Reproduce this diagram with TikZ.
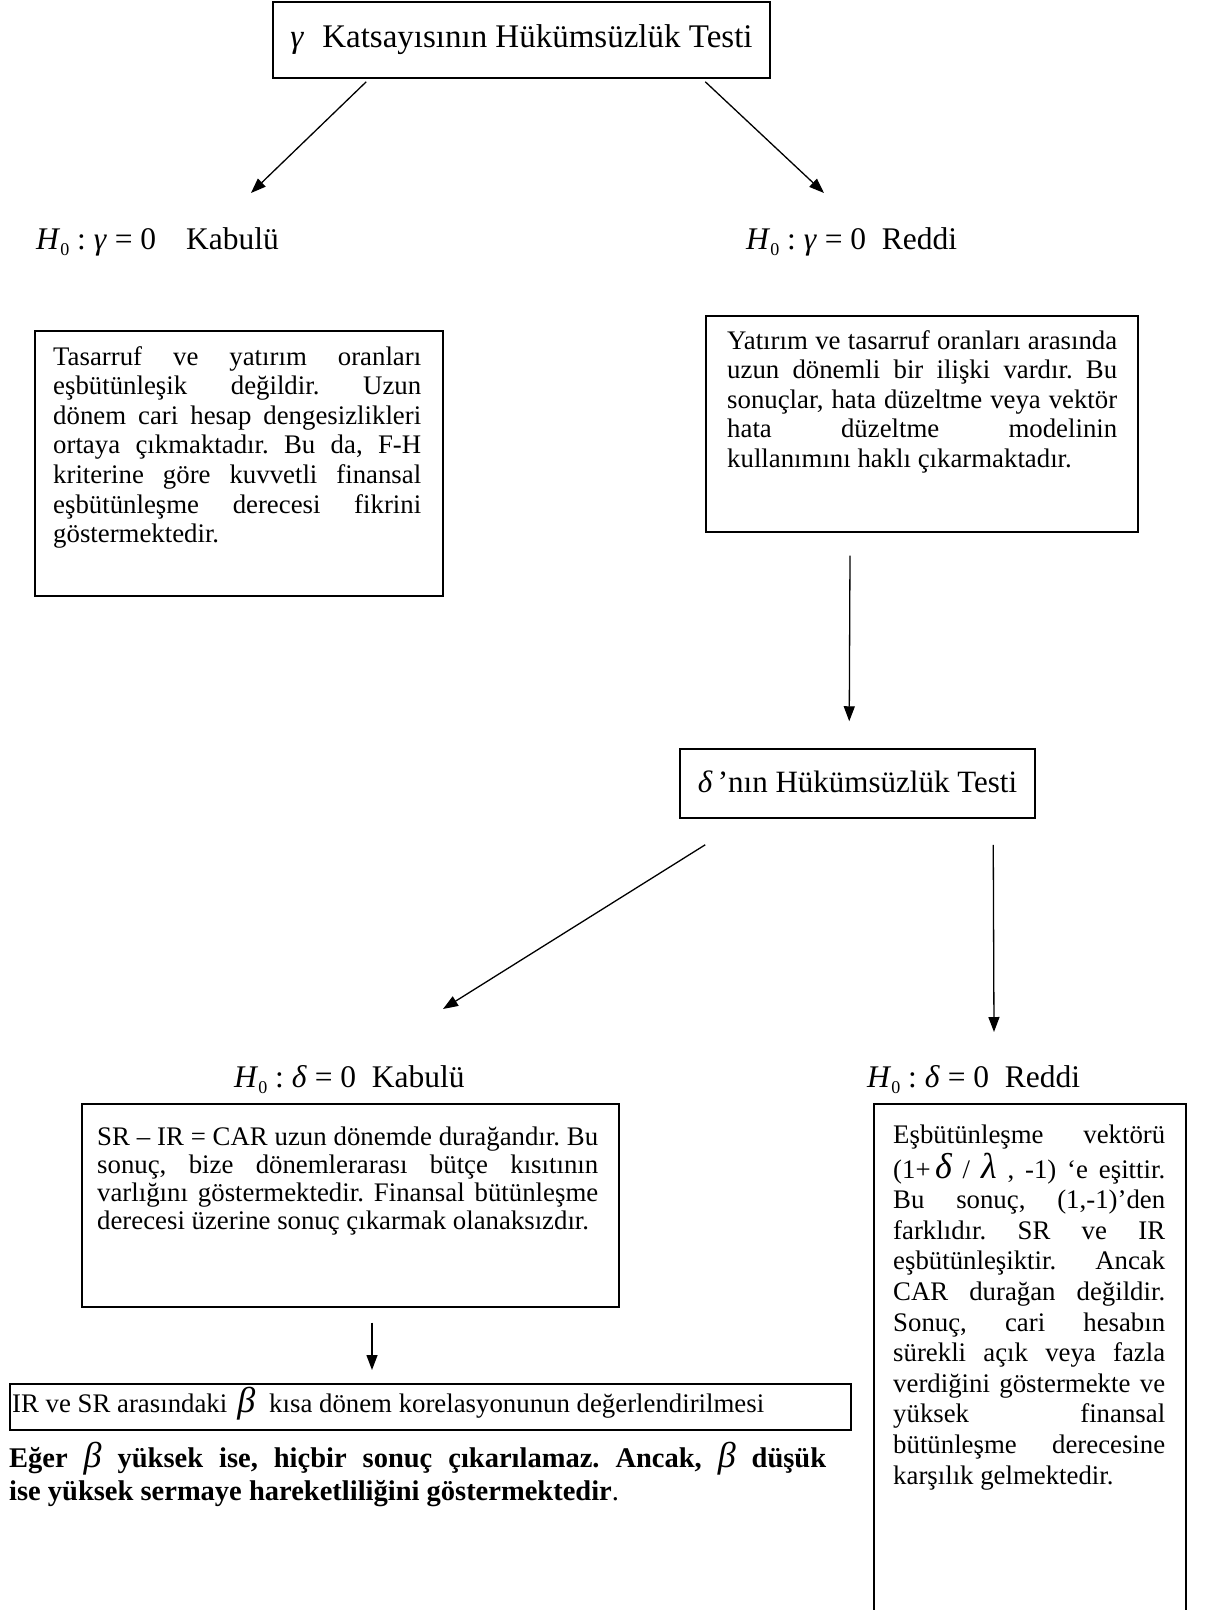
\documentclass[tikz,border=0pt]{standalone}
\usepackage{fontspec}
\setmainfont{Liberation Serif}
\usetikzlibrary{arrows.meta,calc}
\frenchspacing
\newcommand\jl[1]{\makebox[\linewidth][s]{#1}}
\newcommand\bodyfs{\fontsize{26.8}{29.6}\selectfont}
\newcommand\labfs{\fontsize{31.5}{34}\selectfont}
\newcommand\Hz{\textit{H}\raisebox{-0.42ex}{\fontsize{18}{18}\selectfont 0}}
\newcommand\gk[1]{{\fontsize{36}{36}\selectfont\itshape #1}}
\begin{document}
\begin{tikzpicture}[x=1pt,y=1pt,
  box/.style={draw, line width=1.5pt, inner sep=0pt, anchor=north west},
  txt/.style={inner sep=0pt, anchor=base west},
  arr/.style={line width=1.3pt, -{Triangle[length=15pt,width=11pt]}}]
\useasboundingbox[fill=white] (0,0) rectangle (1205,-1610);

% top
\node[draw, line width=1.5pt, inner sep=0pt, minimum width=497pt, minimum height=76pt, font=\fontsize{33}{36}\selectfont] (top) at (521.5,-40) {\textit{γ}\hspace{0.55em}Katsayısının Hükümsüzlük Testi};

\node[txt, font=\labfs] (hgk) at (36,-249) {\Hz\ :\ \textit{γ}\ =\ 0\hspace{30pt}Kabulü};
\node[txt, font=\labfs] (hgr) at (746,-249) {\Hz\ :\ \textit{γ}\ =\ 0\ \ Reddi};

% left box
\node[box, minimum width=408pt, minimum height=265pt] (lbox) at (34,-330) {};
\node[txt] (ltxt) at ($(lbox.north west)+(19,-35)$) {\parbox[t]{368pt}{\bodyfs
\jl{Tasarruf ve yatırım oranları}\\
\jl{eşbütünleşik değildir. Uzun}\\
\jl{dönem cari hesap dengesizlikleri}\\
\jl{ortaya çıkmaktadır. Bu da, F-H}\\
\jl{kriterine göre kuvvetli finansal}\\
\jl{eşbütünleşme derecesi fikrini}\\
göstermektedir.}};

% right box
\node[box, minimum width=432pt, minimum height=216pt] (rbox) at (705,-315) {};
\node[txt] (rtxt) at ($(rbox.north west)+(22,-34)$) {\parbox[t]{390pt}{\bodyfs
\jl{Yatırım ve tasarruf oranları arasında}\\
\jl{uzun dönemli bir ilişki vardır. Bu}\\
\jl{sonuçlar, hata düzeltme veya vektör}\\
\jl{hata düzeltme modelinin}\\
kullanımını haklı çıkarmaktadır.}};

% delta box
\node[draw, line width=1.5pt, inner sep=0pt, minimum width=355pt, minimum height=69pt, font=\fontsize{31}{34}\selectfont] (dbox) at (857.5,-783.5) {\raisebox{4pt}{\textit{δ}\,’nın Hükümsüzlük Testi}};

\node[txt, font=\labfs] (hdk) at (234,-1087) {\Hz\ :\ \textit{δ}\ =\ 0\ \ Kabulü};
\node[txt, font=\labfs] (hdr) at (867,-1087) {\Hz\ :\ \textit{δ}\ =\ 0\ \ Reddi};

% SR box
\node[box, minimum width=537pt, minimum height=203pt] (sbox) at (81,-1103) {};
\node[txt] (stxt) at ($(sbox.north west)+(16,-42)$) {\parbox[t]{501pt}{\fontsize{26.8}{28}\selectfont
\jl{SR – IR = CAR uzun dönemde durağandır. Bu}\\
\jl{sonuç, bize dönemlerarası bütçe kısıtının}\\
\jl{varlığını göstermektedir. Finansal bütünleşme}\\
derecesi üzerine sonuç çıkarmak olanaksızdır.}};

% IR box
\node[box, minimum width=841pt, minimum height=46pt] (ibox) at (9,-1383) {};
\node[txt, font=\bodyfs] (itxt) at ($(ibox.north west)+(3,-29)$) {IR ve SR arasındaki\hspace{10pt}\gk{β}\hspace{14pt}kısa dönem korelasyonunun değerlendirilmesi};

% bold text
\node[txt] (btxt) at (9,-1467) {\parbox[t]{817pt}{\fontsize{28.5}{33}\selectfont\bfseries
\jl{Eğer \gk{\mdseries β} yüksek ise, hiçbir sonuç çıkarılamaz. Ancak, \gk{\mdseries β} düşük}\\
ise yüksek sermaye hareketliliğini göstermektedir{\mdseries .}}};

% right bottom box
\node[box, minimum width=312pt, minimum height=540pt] (ebox) at (873,-1103) {};
\node[txt] (etxt) at ($(ebox.north west)+(20,-40)$) {\parbox[t]{272pt}{\fontsize{26.8}{30.6}\selectfont
\jl{Eşbütünleşme vektörü}\\[3pt]
\jl{(1+\,\gk{δ}\ /\ \gk{λ}\ , -1) ‘e eşittir.}\\
\jl{Bu sonuç, (1,-1)’den}\\
\jl{farklıdır. SR ve IR}\\
\jl{eşbütünleşiktir. Ancak}\\
\jl{CAR durağan değildir.}\\
\jl{Sonuç, cari hesabın}\\
\jl{sürekli açık veya fazla}\\
\jl{verdiğini göstermekte ve}\\
\jl{yüksek finansal}\\
\jl{bütünleşme derecesine}\\
karşılık gelmektedir.}};

% arrows
\draw[arr] ($(top.south west)+(94,-3)$) -- ($(hgk.base west)+(215,56)$);
\draw[arr] ($(top.south west)+(433,-3)$) -- ($(hgr.base west)+(78,56)$);
\draw[arr] ($(rbox.south west)+(145,-23)$) -- ($(dbox.north west)+(170,27)$);
\draw[arr] ($(dbox.south west)+(26,-26)$) -- ($(hdk.base west)+(209,78)$);
\draw[arr] ($(dbox.south west)+(314,-26)$) -- ($(hdr.base west)+(127,55)$);
\draw[arr] ($(sbox.south west)+(291,-15)$) -- ($(ibox.north west)+(363,13)$);
\end{tikzpicture}
\end{document}
